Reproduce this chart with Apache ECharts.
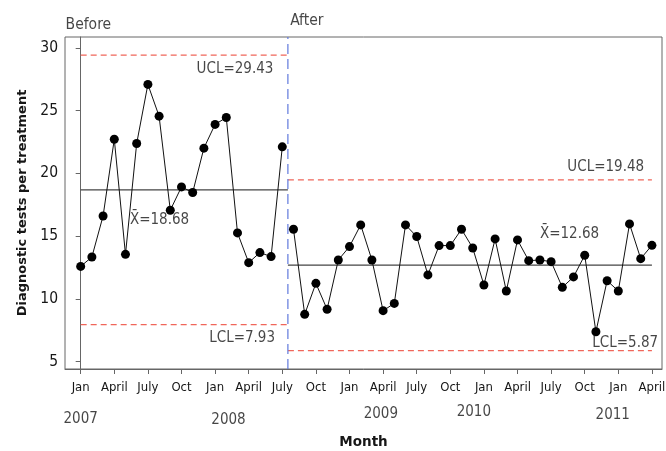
<!DOCTYPE html>
<html>
<head>
<meta charset="utf-8">
<script src="https://cdn.jsdelivr.net/npm/echarts@6/dist/echarts.min.js"></script>
<style>
html,body{margin:0;padding:0;background:#fff;}
#chart{width:666px;height:451px;}
</style>
</head>
<body>
<div id="chart"></div>
<script>
// ---- data ----
const tickLabels = ['Jan','April','July','Oct','Jan','April','July','Oct','Jan','April','July','Oct','Jan','April','July','Oct','Jan','April'];
const yearLabels = ['2007','2008','2009','2010','2011'];
const yearLabelMonths = [0, 13.2, 26.8, 35.1, 47.5];
const yTicks = [5, 10, 15, 20, 25, 30];
// Before: Jan 2007 - Jul 2008 ; After: Aug 2008 - Apr 2011
const beforeValues = [12.58, 13.33, 16.60, 22.72, 13.54, 22.38, 27.09, 24.56, 17.06, 18.92, 18.47, 22.01, 23.90, 24.45, 15.25, 12.88, 13.68, 13.36, 22.11];
const afterValues = [15.54, 8.76, 11.23, 9.16, 13.09, 14.16, 15.89, 13.09, 9.05, 9.63, 15.89, 14.96, 11.90, 14.24, 14.24, 15.54, 14.05, 11.10, 14.77, 10.62, 14.69, 13.04, 13.09, 12.96, 10.91, 11.74, 13.47, 7.37, 11.44, 10.62, 15.97, 13.20, 14.26];
const phaseNames = ['Before', 'After'];
const centerValues = [18.68, 12.68];
const uclValues = [29.43, 19.48];
const lclValues = [7.93, 5.87];
const afterStartMonth = beforeValues.length;           // 19
const lastMonth = afterStartMonth + afterValues.length - 1; // 51
const phaseBoundary = afterStartMonth - 0.5;

// font: prefer a condensed Verdana-like face (close to Tahoma); fall back to DejaVu Sans
function fontWidth(f) {
  const c = document.createElement('canvas').getContext('2d');
  c.font = '20px ' + f;
  return c.measureText('UCL=29.43 Before abcdefgh').width;
}
const hasCond = Math.abs(fontWidth('"DejaVu Sans Condensed", monospace') - fontWidth('monospace')) > 1;
const FONT = hasCond ? 'DejaVu Sans Condensed' : 'DejaVu Sans';
const K = hasCond ? 1.1 : 1.0;
const fs = s => Math.round(s * K * 2) / 2;
const TEXT = '#161616';
const tickValues = tickLabels.map((_, i) => i * 3);
const X_MIN = -1.4, X_MAX = 51.9, Y_MIN = 4.4, Y_MAX = 30.87;

const phaseRanges = [[0, phaseBoundary], [phaseBoundary, lastMonth]];

function seg(points, style, z) {
  return {
    type: 'line', data: points, symbol: 'none', silent: true,
    lineStyle: style, z: z || 1, animation: false
  };
}
const redDash = { color: '#f0665a', width: 1.2, type: [6, 4] };
const meanStyle = { color: '#444', width: 1.4 };
const blueDash = { color: '#5f78dc', width: 1.2, type: [10, 5] };

const limitSeries = [];
for (let p = 0; p < 2; p++) {
  const r = phaseRanges[p];
  limitSeries.push(seg([[r[0], centerValues[p]], [r[1], centerValues[p]]], meanStyle));
  limitSeries.push(seg([[r[0], uclValues[p]], [r[1], uclValues[p]]], redDash));
  limitSeries.push(seg([[r[0], lclValues[p]], [r[1], lclValues[p]]], redDash));
}
limitSeries.push(seg([[phaseBoundary, Y_MIN], [phaseBoundary, Y_MAX]], blueDash, 2));

const XBAR = 'X\u0304';
// annotation anchors: [x in months, y value, text, align, pixel offset y, font size]
const annotations = [
  [17.2, uclValues[0], 'UCL=' + uclValues[0].toFixed(2), 'right', 14, 13.5],
  [4.4, centerValues[0], XBAR + '=' + centerValues[0].toFixed(2), 'left', 30, 13.5],
  [17.35, lclValues[0], 'LCL=' + lclValues[0].toFixed(2), 'right', 13, 13.5],
  [50.3, uclValues[1], 'UCL=' + uclValues[1].toFixed(2), 'right', -13, 13.5],
  [41.0, centerValues[1], XBAR + '=' + centerValues[1].toFixed(2), 'left', -31, 13.5],
  [51.55, lclValues[1], 'LCL=' + lclValues[1].toFixed(2), 'right', -7, 13.5],
  [X_MIN + 0.05, Y_MAX, phaseNames[0], 'left', -12, 14],
  [18.7, Y_MAX, phaseNames[1], 'left', -16, 14]
];
// year row under the month labels (slightly uneven, as in the original)
const yearShift = [50, 51, 45, 43, 46];
yearLabels.forEach((y, i) => {
  annotations.push([yearLabelMonths[i], Y_MIN, y, 'center', yearShift[i], 13.5]);
});

const chart = echarts.init(document.getElementById('chart'), null, { renderer: 'canvas' });
chart.setOption({
  animation: false,
  backgroundColor: '#fff',
  textStyle: { fontFamily: FONT },
  grid: {
    left: 65, right: 4, top: 37, bottom: 82, show: true, borderColor: '#666', borderWidth: 1,
    backgroundColor: 'transparent', containLabel: false, outerBoundsMode: 'none'
  },
  xAxis: {
    type: 'value', min: X_MIN, max: X_MAX, position: 'bottom',
    axisLine: { show: true, lineStyle: { color: '#666' } },
    axisTick: { show: true, customValues: tickValues, length: 5, lineStyle: { color: '#666' } },
    axisLabel: {
      customValues: tickValues, color: TEXT, fontSize: fs(12), fontFamily: FONT, margin: 12,
      formatter: v => tickLabels[Math.round(v / 3)]
    },
    splitLine: { show: false },
    name: 'Month', nameLocation: 'middle', nameGap: 66,
    nameTextStyle: { fontWeight: 'bold', fontSize: 13.5, color: TEXT, fontFamily: 'DejaVu Sans' }
  },
  yAxis: {
    type: 'value', min: Y_MIN, max: Y_MAX,
    axisLine: { show: true, lineStyle: { color: '#666' } },
    axisTick: { show: true, customValues: yTicks, length: 5, lineStyle: { color: '#666' } },
    axisLabel: { customValues: yTicks, color: TEXT, fontSize: fs(14), fontFamily: FONT, margin: 7 },
    splitLine: { show: false },
    name: 'Diagnostic tests per treatment', nameLocation: 'middle', nameGap: 36,
    nameTextStyle: { fontWeight: 'bold', fontSize: 13, color: TEXT, fontFamily: 'DejaVu Sans' }
  },
  series: [
    ...limitSeries,
    {
      type: 'line', data: beforeValues.map((v, i) => [i, v]),
      symbol: 'circle', symbolSize: 9, showSymbol: true,
      itemStyle: { color: '#000' }, lineStyle: { color: '#111', width: 1 }, z: 3
    },
    {
      type: 'line', data: afterValues.map((v, i) => [afterStartMonth + i, v]),
      symbol: 'circle', symbolSize: 9, showSymbol: true,
      itemStyle: { color: '#000' }, lineStyle: { color: '#111', width: 1 }, z: 3
    },
    {
      type: 'scatter', symbolSize: 0, silent: true, clip: false, z: 5,
      data: annotations.map(a => ({
        value: [a[0], a[1]],
        label: {
          show: true, position: 'inside', formatter: a[2], align: a[3], verticalAlign: 'middle',
          offset: [0, a[4]], color: TEXT, fontSize: fs(a[5]), fontFamily: FONT
        }
      }))
    }
  ]
});
</script>
</body>
</html>
